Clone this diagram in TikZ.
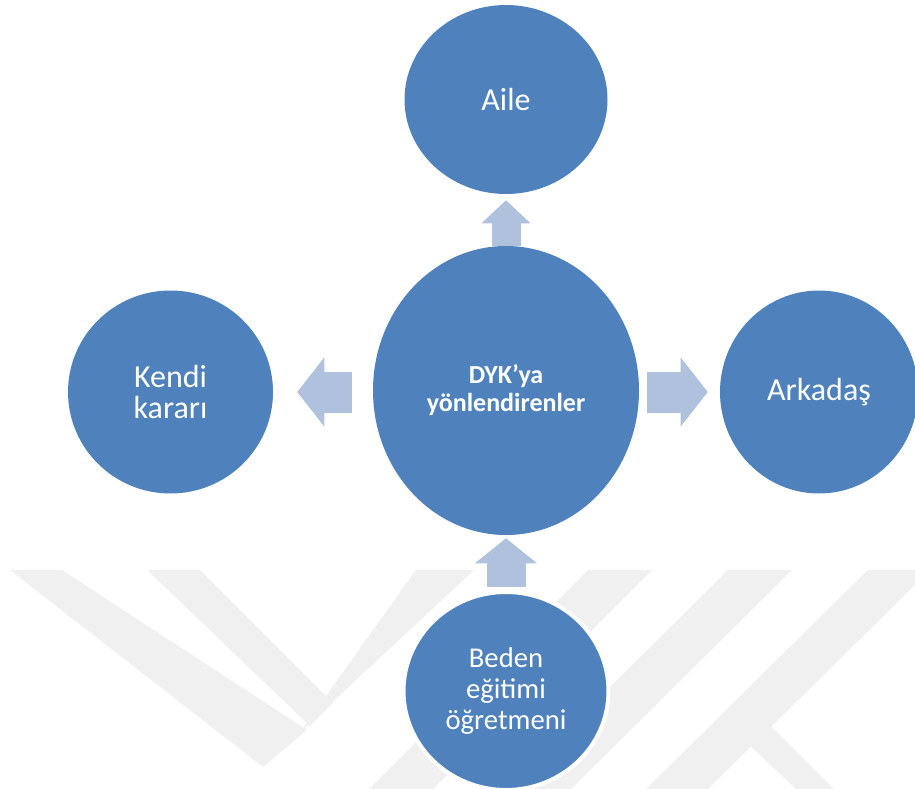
\documentclass[tikz,border=0pt]{standalone}
\usepackage{fontspec}
\setmainfont{Carlito}
\usetikzlibrary{shapes.geometric}
\usetikzlibrary{arrows.meta}
\definecolor{dyk-blue0}{RGB}{79, 129, 189}
\definecolor{dyk-blue1}{RGB}{176, 193, 221}
\definecolor{dyk-gray}{RGB}{240, 240, 240}

\begin{document}
\begin{tikzpicture}[x=0.75pt, y=-0.75pt,
    daire/.style={ellipse, fill=dyk-blue0, text=white, inner sep=0pt, align=center},
    okdik/.style={dyk-blue1, line width=21.75pt, -{Triangle[width=36.75pt, length=17.25pt, line width=0pt]}},
    okyan/.style={dyk-blue1, line width=30.75pt, -{Triangle[width=51.75pt, length=20.25pt, line width=0pt]}},
    okalt/.style={dyk-blue1, line width=29.25pt, -{Triangle[width=46.5pt, length=18.75pt, line width=0pt]}}]
  \useasboundingbox (0, 0) rectangle (915, 789);

  \begin{scope}
    \clip (0, 0) rectangle (915, 789);
    \fill[dyk-gray] (10, 570) -- (62, 570) -- (307, 730) -- (263, 767) -- cycle;
    \fill[dyk-gray] (263, 767) -- (474, 570) -- (416, 570) -- (296, 738) -- cycle;
    \fill[dyk-gray] (147, 570) -- (200, 570) -- (333, 703) -- (310, 726) -- cycle;
    \fill[dyk-gray] (588, 570) -- (652, 570) -- (433, 789) -- (369, 789) -- cycle;
    \fill[dyk-gray] (728, 570) -- (792, 570) -- (571, 789) -- (507, 789) -- cycle;
    \fill[dyk-gray] (868, 570) -- (930, 570) -- (708, 789) -- (646, 789) -- cycle;
    \fill[dyk-gray] (742, 738) -- (767, 722) -- (834, 789) -- (796, 789) -- cycle;
  \end{scope}

  \node[daire, minimum width=152.25pt, minimum height=141.75pt, font=\fontsize{24}{26}\selectfont] (aile) at (506, 99.5) {Aile};
  \node[daire, minimum width=199.5pt, minimum height=216.75pt, font=\fontsize{19.5}{21}\selectfont\bfseries] (dyk) at (506, 390.5) {DYK’ya\\yönlendirenler};
  \node[daire, minimum width=153.75pt, minimum height=152.25pt, font=\fontsize{24}{23}\selectfont] (kendi) at (170.5, 392) {Kendi\\kararı};
  \node[daire, minimum width=148.5pt, minimum height=152.25pt, font=\fontsize{24}{26}\selectfont] (arkadas) at (819, 392) {Arkadaş};
  \node[daire, draw=white, line width=3pt, minimum width=153.75pt, minimum height=148.5pt, font=\fontsize{21.5}{23}\selectfont] (beden) at (506, 691) {Beden\\eğitimi\\öğretmeni};

  \draw[okdik, shorten >=4.5pt] (dyk.north) -- (aile.south);
  \draw[okyan, shorten <=15.75pt, shorten >=18pt] (kendi.east -| dyk.west) -- (kendi.east);
  \draw[okyan, shorten <=6pt, shorten >=9pt] (arkadas.west -| dyk.east) -- (arkadas.west);
  \draw[okalt, shorten <=2.25pt, shorten >=2.25pt] (beden.north) -- (dyk.south);
\end{tikzpicture}
\end{document}
